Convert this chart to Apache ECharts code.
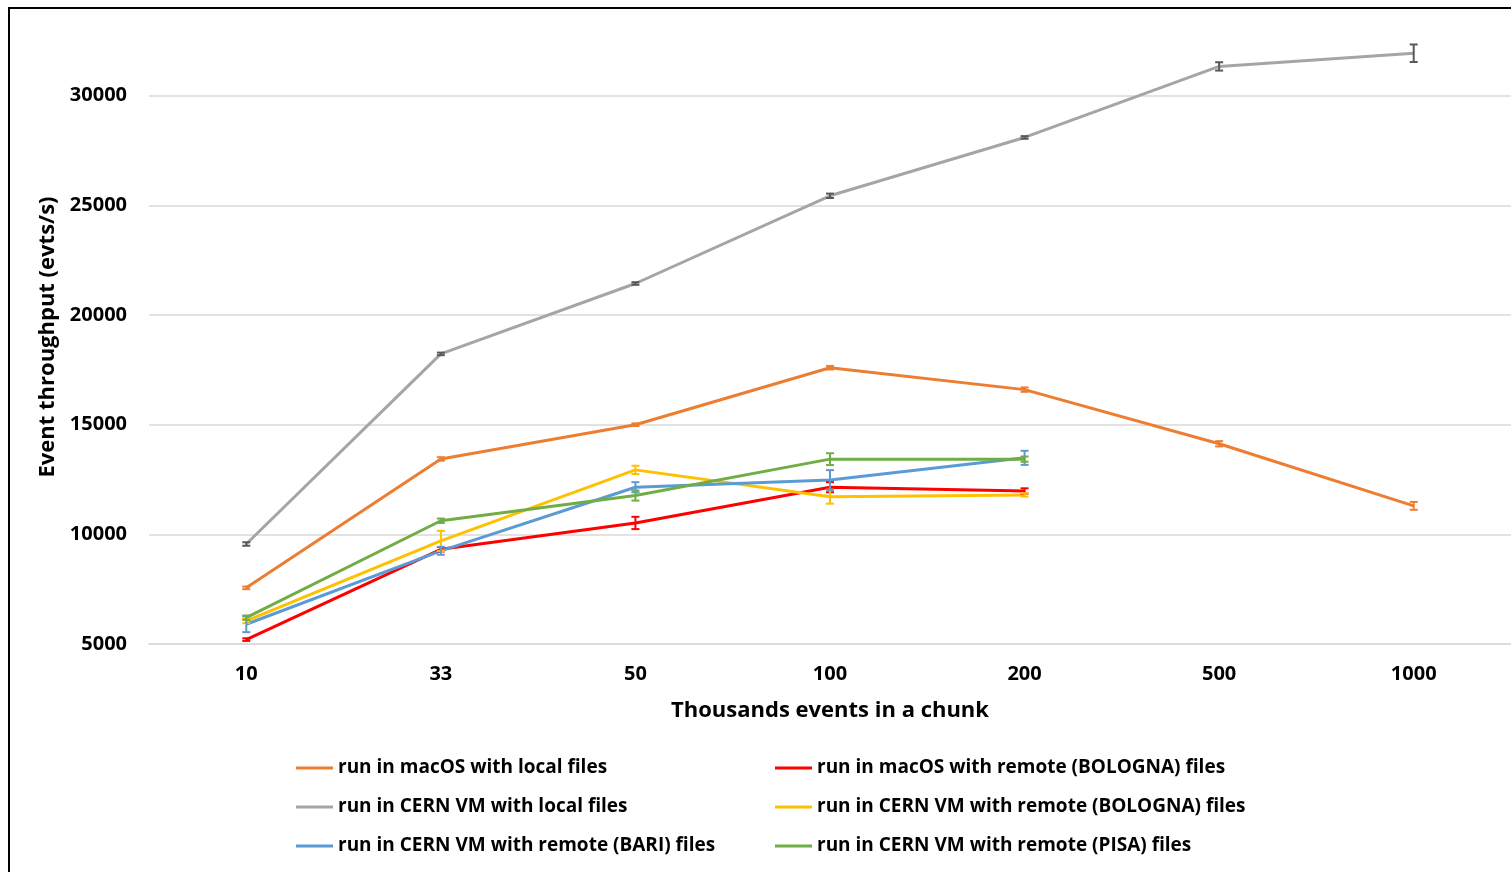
<!DOCTYPE html>
<html>
<head>
<meta charset="utf-8">
<script src="https://cdn.jsdelivr.net/npm/echarts@6/dist/echarts.min.js"></script>
<style>
html,body{margin:0;padding:0;background:#fff;}
#chart{width:1511px;height:872px;}
</style>
</head>
<body>
<div id="chart"></div>
<script>
const categories = ['10', '33', '50', '100', '200', '500', '1000'];

const macLocal      = [7560, 13440, 15000, 17600, 16600, 14130, 11300];
const macLocalErr   = [60, 80, 60, 80, 100, 120, 180];
const macBologna    = [5200, 9320, 10520, 12150, 11980, null, null];
const macBolognaErr = [60, 100, 280, 230, 120, null, null];
const vmLocal       = [9560, 18230, 21440, 25440, 28100, 31340, 31940];
const vmLocalErr    = [80, 60, 60, 100, 60, 190, 400];
const vmBologna     = [6050, 9700, 12940, 11720, 11800, null, null];
const vmBolognaErr  = [100, 460, 190, 320, 80, null, null];
const vmBari        = [5900, 9250, 12150, 12480, 13490, null, null];
const vmBariErr     = [360, 180, 230, 450, 320, null, null];
const vmPisa        = [6200, 10620, 11770, 13430, 13430, null, null];
const vmPisaErr     = [100, 100, 230, 270, 120, null, null];

const yTicks = { min: 5000, max: 33000, interval: 5000 };

const names = [
  'run in macOS with local files',
  'run in macOS with remote (BOLOGNA) files',
  'run in CERN VM with local files',
  'run in CERN VM with remote (BOLOGNA) files',
  'run in CERN VM with remote (BARI) files',
  'run in CERN VM with remote (PISA) files'
];
const colors = ['#ED7D31', '#FF0000', '#A5A5A5', '#FFC000', '#5B9BD5', '#70AD47'];
const errColors = ['#ED7D31', '#FF0000', '#595959', '#FFC000', '#5B9BD5', '#70AD47'];
const values = [macLocal, macBologna, vmLocal, vmBologna, vmBari, vmPisa];
const errs = [macLocalErr, macBolognaErr, vmLocalErr, vmBolognaErr, vmBariErr, vmPisaErr];

const FONT = '"Open Sans", "Noto Sans", sans-serif';

const series = [];
values.forEach((vals, i) => {
  series.push({
    name: names[i],
    type: 'line',
    data: vals,
    symbol: 'none',
    lineStyle: { color: colors[i], width: 3 },
    itemStyle: { color: colors[i] },
    z: 3 + i
  });
});
values.forEach((vals, i) => {
  const d = [];
  vals.forEach((v, j) => { if (v != null) d.push([j, v - errs[i][j], v + errs[i][j]]); });
  series.push({
    type: 'custom',
    name: names[i] + ' err',
    data: d,
    z: 10,
    silent: true,
    renderItem: function (params, api) {
      const x = api.value(0);
      const lo = api.coord([x, api.value(1)]);
      const hi = api.coord([x, api.value(2)]);
      const hw = 4;
      const st = { stroke: errColors[i], lineWidth: 2, fill: null };
      return {
        type: 'group',
        children: [
          { type: 'line', shape: { x1: lo[0], y1: lo[1], x2: hi[0], y2: hi[1] }, style: st },
          { type: 'line', shape: { x1: lo[0] - hw, y1: lo[1], x2: lo[0] + hw, y2: lo[1] }, style: st },
          { type: 'line', shape: { x1: hi[0] - hw, y1: hi[1], x2: hi[0] + hw, y2: hi[1] }, style: st }
        ]
      };
    }
  });
});

const legendCommon = {
  orient: 'vertical',
  top: 756,
  padding: 0,
  itemWidth: 37,
  itemHeight: 3,
  itemGap: 15,
  icon: 'rect',
  textStyle: { fontFamily: FONT, fontWeight: 'bold', fontSize: 19, color: '#000', lineHeight: 24 }
};

const chart = echarts.init(document.getElementById('chart'));
chart.setOption({
  animation: false,
  backgroundColor: '#fff',
  grid: { left: 149, width: 1363, top: 30, bottom: 228 },
  xAxis: {
    type: 'category',
    data: categories,
    boundaryGap: true,
    name: 'Thousands events in a chunk',
    nameLocation: 'middle',
    nameGap: 56,
    nameTextStyle: { fontFamily: FONT, fontWeight: 'bold', fontSize: 22, color: '#000' },
    axisLine: { lineStyle: { color: '#d9d9d9', width: 1.5 } },
    axisTick: { show: false },
    axisLabel: { margin: 20, fontFamily: FONT, fontWeight: 'bold', fontSize: 20, color: '#000' }
  },
  yAxis: {
    type: 'value',
    min: yTicks.min,
    max: yTicks.max,
    interval: yTicks.interval,
    name: 'Event throughput (evts/s)',
    nameLocation: 'middle',
    nameGap: 90,
    nameTextStyle: { fontFamily: FONT, fontWeight: 'bold', fontSize: 22, color: '#000' },
    axisLine: { show: false },
    axisTick: { show: false },
    axisLabel: { margin: 22, fontFamily: FONT, fontWeight: 'bold', fontSize: 20, color: '#000', showMaxLabel: false, formatter: function (v) { return String(v); } },
    splitLine: { lineStyle: { color: ['#d9d9d9', '#d9d9d9', '#d9d9d9', '#d9d9d9', '#d9d9d9', '#d9d9d9', 'rgba(0,0,0,0)'], width: 1.5 } }
  },
  legend: [
    Object.assign({ left: 296, data: [names[0], names[2], names[4]] }, legendCommon),
    Object.assign({ left: 775, data: [names[1], names[3], names[5]] }, legendCommon)
  ],
  graphic: [{
    type: 'rect',
    shape: { x: 9, y: 8, width: 1600, height: 1000 },
    style: { fill: null, stroke: '#000', lineWidth: 2 },
    silent: true,
    z: 100
  }],
  series: series
});
</script>
</body>
</html>
